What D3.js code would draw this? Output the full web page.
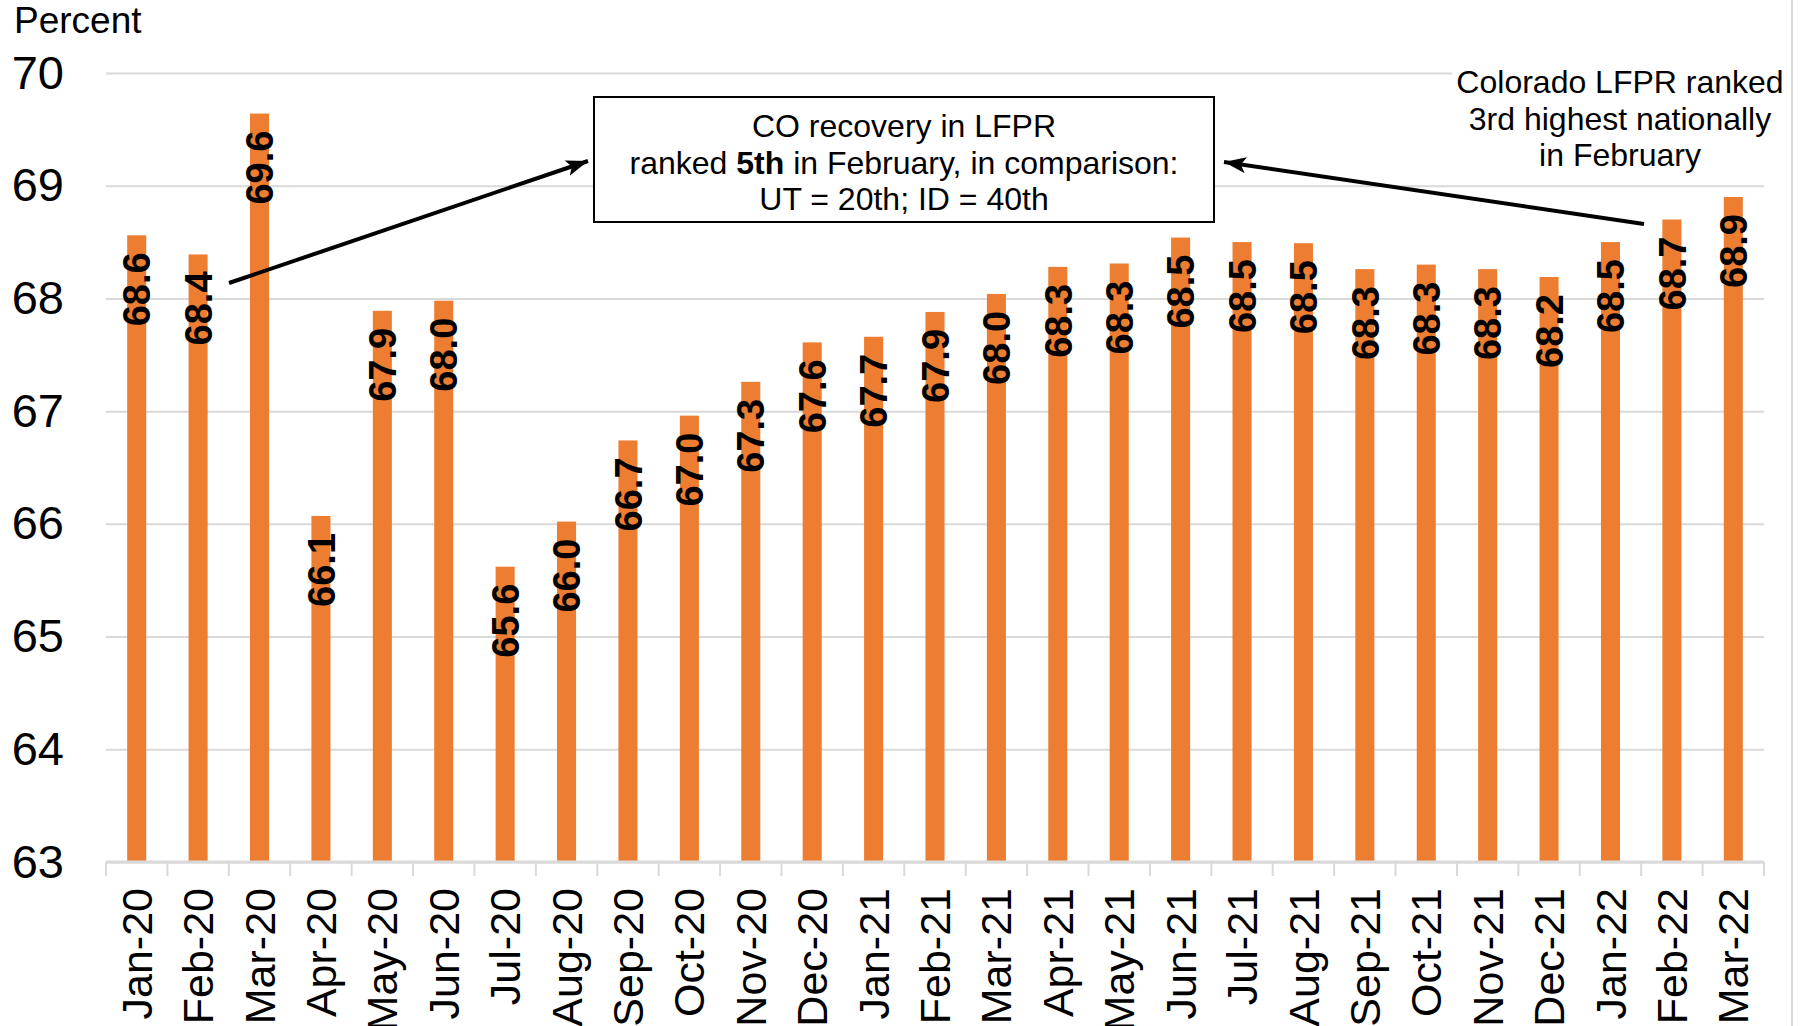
<!DOCTYPE html>
<html>
<head>
<meta charset="utf-8">
<script src="https://cdn.jsdelivr.net/npm/d3@7"></script>
<style>
  body { margin: 0; background: #fff; }
  text { font-family: "Liberation Sans", Arial, sans-serif; }
</style>
</head>
<body>
<div id="chart"></div>
<script>
// month labels along the bottom
const categories = ["Jan-20","Feb-20","Mar-20","Apr-20","May-20","Jun-20","Jul-20","Aug-20","Sep-20",
  "Oct-20","Nov-20","Dec-20","Jan-21","Feb-21","Mar-21","Apr-21","May-21","Jun-21","Jul-21",
  "Aug-21","Sep-21","Oct-21","Nov-21","Dec-21","Jan-22","Feb-22","Mar-22"];
// Colorado LFPR, percent
const lfpr = [68.56, 68.39, 69.64, 66.07, 67.89, 67.98, 65.62, 66.02, 66.74,
  66.96, 67.26, 67.61, 67.66, 67.88, 68.04, 68.28, 68.31, 68.54, 68.50,
  68.49, 68.26, 68.30, 68.26, 68.19, 68.50, 68.70, 68.90];
const yTicks = [63, 64, 65, 66, 67, 68, 69, 70];
const boxLines = ["CO recovery in LFPR", "ranked |5th| in February, in comparison:", "UT = 20th; ID = 40th"];
const noteLines = ["Colorado LFPR ranked", "3rd highest nationally", "in February"];

const W = 1801, H = 1026;
const plotLeft = 106, plotRight = 1764, plotTop = 73, plotBottom = 862;

const svg = d3.select("#chart").append("svg")
    .attr("width", W)
    .attr("height", H);

const xCell = d3.scaleBand().domain(categories).range([plotLeft, plotRight]);
const x = d3.scaleBand().domain(categories).range([plotLeft, plotRight])
    .paddingInner(0.69).paddingOuter(0.345);
const y = d3.scaleLinear().domain([63, 70]).range([plotBottom, plotTop]);

// gridlines + y labels
const yAxis = svg.append("g")
    .attr("transform", "translate(" + plotLeft + ",0)")
    .call(d3.axisLeft(y).tickValues(yTicks).tickSize(-(plotRight - plotLeft)).tickPadding(42).tickFormat(d3.format("d")));
yAxis.select(".domain").remove();
yAxis.selectAll(".tick line").attr("stroke", "#d9d9d9").attr("stroke-width", 2);
yAxis.selectAll(".tick text").attr("font-size", 47).attr("fill", "#000")
    .attr("font-family", "Liberation Sans, Arial, sans-serif");

svg.append("text")
    .attr("x", 14).attr("y", 33)
    .attr("font-size", 37)
    .text("Percent");

// bars
svg.selectAll(".bar")
    .data(categories)
  .enter().append("rect")
    .attr("class", "bar")
    .attr("x", d => x(d))
    .attr("width", x.bandwidth())
    .attr("y", (d, i) => y(lfpr[i]))
    .attr("height", (d, i) => plotBottom - y(lfpr[i]))
    .attr("fill", "#ed7d31");

// bottom axis line and boundary ticks
svg.append("line")
    .attr("x1", plotLeft).attr("x2", plotRight)
    .attr("y1", plotBottom).attr("y2", plotBottom)
    .attr("stroke", "#d9d9d9").attr("stroke-width", 3);

const bounds = categories.map(c => xCell(c)).concat([plotRight]);
svg.selectAll(".xtick")
    .data(bounds)
  .enter().append("line")
    .attr("x1", d => d).attr("x2", d => d)
    .attr("y1", plotBottom).attr("y2", plotBottom + 14)
    .attr("stroke", "#d9d9d9").attr("stroke-width", 2);

svg.selectAll(".xlabel")
    .data(categories)
  .enter().append("text")
    .attr("transform", d => "translate(" + (xCell(d) + xCell.bandwidth() / 2) + "," + (plotBottom + 26) + ") rotate(-90)")
    .attr("text-anchor", "end")
    .attr("dy", "0.35em")
    .attr("font-size", 43)
    .text(d => d);

// value labels inside bar tops
svg.selectAll(".vlabel")
    .data(categories)
  .enter().append("text")
    .attr("transform", (d, i) => "translate(" + (x(d) + x.bandwidth() / 2) + "," + (y(lfpr[i]) + 17) + ") rotate(-90)")
    .attr("text-anchor", "end")
    .attr("dy", "0.36em")
    .attr("font-size", 38)
    .attr("font-weight", "bold")
    .text((d, i) => lfpr[i].toFixed(1));

// right note, white background hides the top gridline
svg.append("rect")
    .attr("x", 1452).attr("y", 60).attr("width", 340).attr("height", 116)
    .attr("fill", "#fff");
svg.selectAll(".note")
    .data(noteLines)
  .enter().append("text")
    .attr("x", 1620)
    .attr("y", (d, i) => 93 + i * 36.5)
    .attr("text-anchor", "middle")
    .attr("font-size", 32)
    .text(d => d);

// boxed callout
svg.append("rect")
    .attr("x", 594).attr("y", 97).attr("width", 620).attr("height", 125)
    .attr("fill", "#fff").attr("stroke", "#000").attr("stroke-width", 2);
boxLines.forEach(function(line, i) {
    const t = svg.append("text")
        .attr("x", 904)
        .attr("y", 137 + i * 36.5)
        .attr("text-anchor", "middle")
        .attr("font-size", 32);
    line.split("|").forEach(function(part, j) {
        t.append("tspan").attr("font-weight", j === 1 ? "bold" : null).text(part);
    });
});

// arrows
svg.append("defs").append("marker")
    .attr("id", "head")
    .attr("markerUnits", "userSpaceOnUse")
    .attr("markerWidth", 24).attr("markerHeight", 18)
    .attr("refX", 22).attr("refY", 8)
    .attr("orient", "auto")
  .append("path")
    .attr("d", "M0,0 L22,8 L0,16 L5,8 Z")
    .attr("fill", "#000");

const arrows = [[229, 283, 588, 161], [1644, 224, 1224, 162]];
svg.selectAll(".arrow")
    .data(arrows)
  .enter().append("line")
    .attr("x1", d => d[0]).attr("y1", d => d[1])
    .attr("x2", d => d[2]).attr("y2", d => d[3])
    .attr("stroke", "#000").attr("stroke-width", 4)
    .attr("marker-end", "url(#head)");

// thin frame edge at the right
svg.append("line")
    .attr("x1", 1792).attr("x2", 1792)
    .attr("y1", 0).attr("y2", H)
    .attr("stroke", "#d9d9d9").attr("stroke-width", 2);
</script>
</body>
</html>
